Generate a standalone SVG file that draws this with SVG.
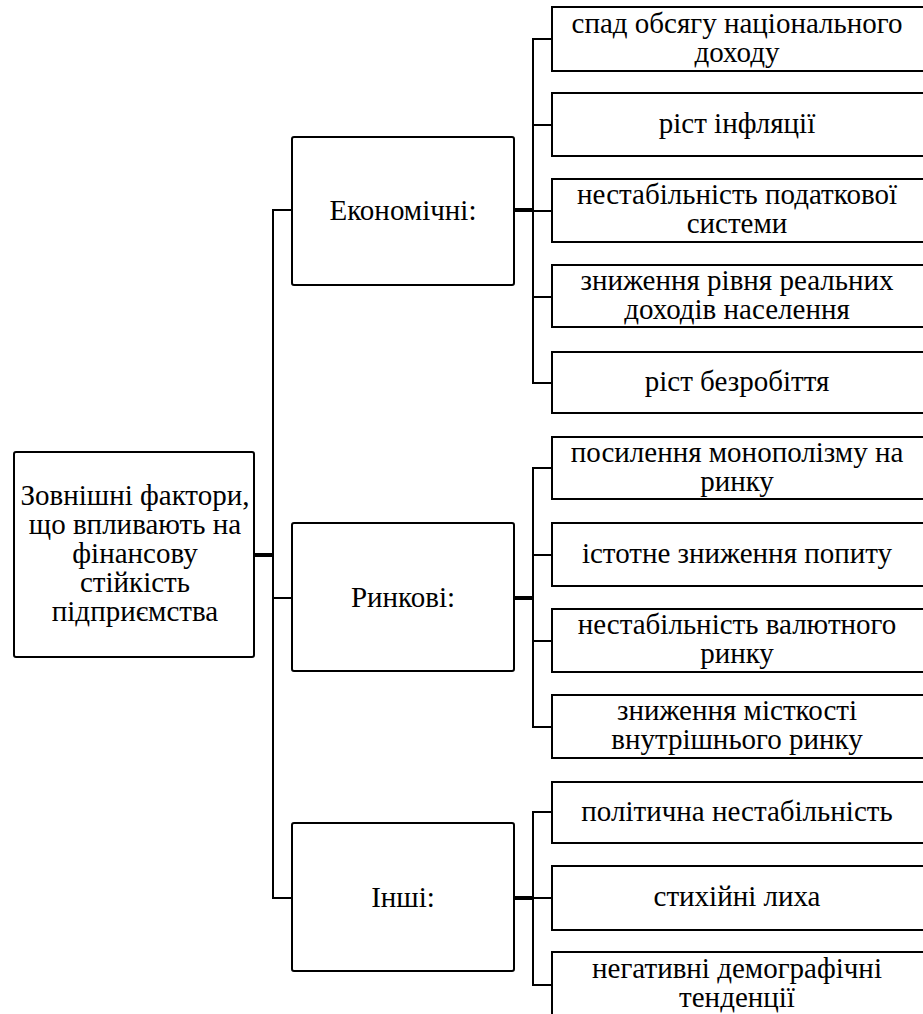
<svg xmlns="http://www.w3.org/2000/svg" width="923" height="1014" viewBox="0 0 923 1014">
<defs>
<rect id="mid" width="222" height="148" rx="2" fill="#fff" stroke="#000" stroke-width="2"/>
</defs>
<rect width="923" height="1014" fill="#fff"/>
<g id="connectors" fill="none" stroke="#000" stroke-width="2">
<path stroke-width="4" d="M254 555H273"/>
<path d="M292 210H273V898H292M273 598H292"/>
<path stroke-width="4" d="M514 210H533M514 598H533M514 898H533"/>
<path d="M552 39H533V383H552M533 125H552M533 211H552M533 297H552"/>
<path d="M552 468H533V727H552M533 555H552M533 641H552"/>
<path d="M552 812H533V985H552M533 898H552"/>
</g>
<g id="root"><rect x="14" y="452" width="240" height="205" rx="2" fill="#fff" stroke="#000" stroke-width="2"/>
<text font-family="Liberation Serif" font-size="29" text-anchor="middle" x="135"><tspan x="135" y="505">Зовнішні фактори,</tspan><tspan x="135" y="534">що впливають на</tspan><tspan x="135" y="563">фінансову</tspan><tspan x="135" y="592">стійкість</tspan><tspan x="135" y="621">підприємства</tspan></text></g>
<g id="econ"><use href="#mid" x="292" y="137"/><text font-family="Liberation Serif" font-size="29" text-anchor="middle" x="403" y="220">Економічні:</text></g>
<g id="market"><use href="#mid" x="292" y="523"/><text font-family="Liberation Serif" font-size="29" text-anchor="middle" x="403" y="607">Ринкові:</text></g>
<g id="other"><use href="#mid" x="292" y="823"/><text font-family="Liberation Serif" font-size="29" text-anchor="middle" x="403" y="907">Інші:</text></g>
<g id="e1"><rect x="552" y="7" width="374" height="64" fill="#fff" stroke="#000" stroke-width="2"/><text font-family="Liberation Serif" font-size="29" text-anchor="middle" x="737"><tspan x="737" y="33">спад обсягу національного</tspan><tspan x="737" y="62">доходу</tspan></text></g>
<g id="e2"><rect x="552" y="93" width="374" height="63" fill="#fff" stroke="#000" stroke-width="2"/><text font-family="Liberation Serif" font-size="29" text-anchor="middle" x="737" y="133">ріст інфляції</text></g>
<g id="e3"><rect x="552" y="179" width="374" height="63" fill="#fff" stroke="#000" stroke-width="2"/><text font-family="Liberation Serif" font-size="29" text-anchor="middle" x="737"><tspan x="737" y="204">нестабільність податкової</tspan><tspan x="737" y="233">системи</tspan></text></g>
<g id="e4"><rect x="552" y="265" width="374" height="62" fill="#fff" stroke="#000" stroke-width="2"/><text font-family="Liberation Serif" font-size="29" text-anchor="middle" x="737"><tspan x="737" y="290">зниження рівня реальних</tspan><tspan x="737" y="319">доходів населення</tspan></text></g>
<g id="e5"><rect x="552" y="352" width="374" height="61" fill="#fff" stroke="#000" stroke-width="2"/><text font-family="Liberation Serif" font-size="29" text-anchor="middle" x="737" y="391">ріст безробіття</text></g>
<g id="m1"><rect x="552" y="437" width="374" height="62" fill="#fff" stroke="#000" stroke-width="2"/><text font-family="Liberation Serif" font-size="29" text-anchor="middle" x="737"><tspan x="737" y="462">посилення монополізму на</tspan><tspan x="737" y="491">ринку</tspan></text></g>
<g id="m2"><rect x="552" y="523" width="374" height="63" fill="#fff" stroke="#000" stroke-width="2"/><text font-family="Liberation Serif" font-size="29" text-anchor="middle" x="737" y="563">істотне зниження попиту</text></g>
<g id="m3"><rect x="552" y="609" width="374" height="63" fill="#fff" stroke="#000" stroke-width="2"/><text font-family="Liberation Serif" font-size="29" text-anchor="middle" x="737"><tspan x="737" y="634">нестабільність валютного</tspan><tspan x="737" y="663">ринку</tspan></text></g>
<g id="m4"><rect x="552" y="695" width="374" height="63" fill="#fff" stroke="#000" stroke-width="2"/><text font-family="Liberation Serif" font-size="29" text-anchor="middle" x="737"><tspan x="737" y="720">зниження місткості</tspan><tspan x="737" y="749">внутрішнього ринку</tspan></text></g>
<g id="o1"><rect x="552" y="782" width="374" height="61" fill="#fff" stroke="#000" stroke-width="2"/><text font-family="Liberation Serif" font-size="29" text-anchor="middle" x="737" y="821">політична нестабільність</text></g>
<g id="o2"><rect x="552" y="866" width="374" height="64" fill="#fff" stroke="#000" stroke-width="2"/><text font-family="Liberation Serif" font-size="29" text-anchor="middle" x="737" y="906">стихійні лиха</text></g>
<g id="o3"><rect x="552" y="952" width="374" height="70" fill="#fff" stroke="#000" stroke-width="2"/><text font-family="Liberation Serif" font-size="29" text-anchor="middle" x="737"><tspan x="737" y="978">негативні демографічні</tspan><tspan x="737" y="1007">тенденції</tspan></text></g>
</svg>
